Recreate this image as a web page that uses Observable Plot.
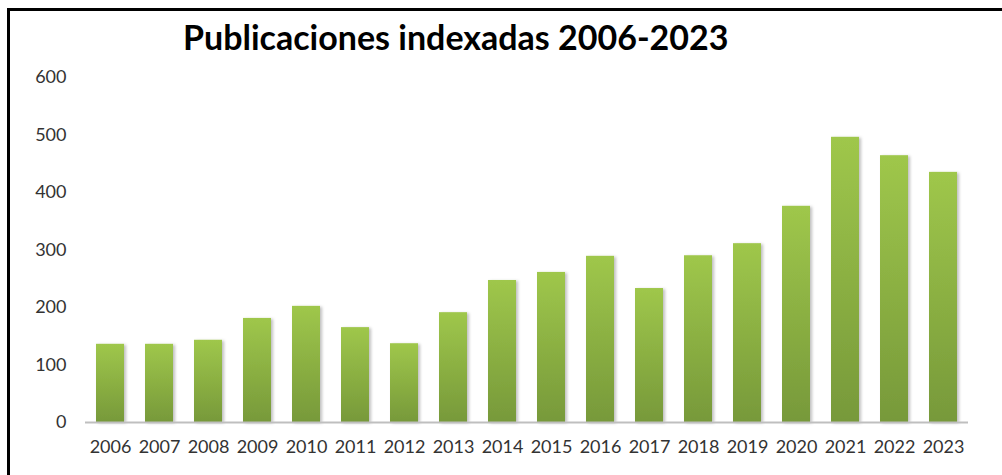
<!DOCTYPE html>
<html>
<head>
<meta charset="utf-8">
<script src="https://cdn.jsdelivr.net/npm/d3@7"></script>
<script src="https://cdn.jsdelivr.net/npm/@observablehq/plot@0.6"></script>
<style>
  html, body { margin: 0; padding: 0; background: #fff; }
  #wrap { position: relative; width: 1002px; height: 475px; overflow: hidden; background: #fff; }
  #frame { position: absolute; left: 7px; top: 8px; width: 1000px; height: 480px;
           border-left: 3px solid #000; border-top: 3px solid #000; box-sizing: border-box; }
  #title { position: absolute; left: 183px; top: 20px; font-family: Lato, "Open Sans", sans-serif;
           font-weight: bold; font-size: 34px; color: #000; white-space: nowrap; line-height: 1; }
  #chart { position: absolute; left: 0; top: 0; }
  #chart svg g[aria-label="y-axis tick label"],
  #chart svg g[aria-label="x-axis tick label"] { font-size: 18px; font-family: Lato, "Open Sans", sans-serif; }
</style>
</head>
<body>
<div id="wrap">
  <div id="frame"></div>
  <div id="chart"></div>
  <div id="title">Publicaciones indexadas 2006-2023</div>
</div>
<script>
const years = ["2006","2007","2008","2009","2010","2011","2012","2013","2014","2015","2016","2017","2018","2019","2020","2021","2022","2023"];
const publicaciones = [136, 136, 143, 181, 202, 165, 137, 191, 247, 261, 289, 233, 290, 311, 376, 496, 464, 435];
const yTicks = [0, 100, 200, 300, 400, 500, 600];

const data = years.map((y, i) => ({year: y, value: publicaciones[i]}));

const chart = Plot.plot({
  width: 1002,
  height: 475,
  marginLeft: 85,
  marginRight: 34,
  marginTop: 77,
  marginBottom: 53,
  style: { fontFamily: "Lato, 'Open Sans', sans-serif", fontSize: "18px", color: "#333", background: "transparent", overflow: "visible" },
  x: { domain: years, paddingInner: 0.43, paddingOuter: 0.215, label: null },
  y: { domain: [0, 600], label: null },
  marks: [
    Plot.barY(data, { x: "year", y: "value", fill: "url(#barGrad)" }),
    Plot.ruleX([0], { frameAnchor: "left", y1: 0, y2: 600, stroke: "#bfbfbf", strokeWidth: 1.3 }),
    Plot.ruleY([0], { stroke: "#bfbfbf", strokeWidth: 2 }),
    Plot.axisY({ ticks: yTicks, tickSize: 0, tickPadding: 19, fontSize: 18, fill: "#333", label: null }),
    Plot.axisX({ tickSize: 0, tickPadding: 18, fontSize: 18, fill: "#333", label: null })
  ]
});

const ns = "http://www.w3.org/2000/svg";
const defs = document.createElementNS(ns, "defs");
defs.innerHTML = `
  <linearGradient id="barGrad" x1="0" y1="0" x2="0" y2="1">
    <stop offset="0" stop-color="#9fc74b"/>
    <stop offset="1" stop-color="#77993a"/>
  </linearGradient>
  <filter id="barShadow" x="-20%" y="-5%" width="150%" height="115%">
    <feDropShadow dx="2" dy="1" stdDeviation="1.6" flood-color="#000" flood-opacity="0.25"/>
  </filter>`;
chart.insertBefore(defs, chart.firstChild);
const barGroup = chart.querySelector("g[aria-label='bar']");
if (barGroup) barGroup.setAttribute("filter", "url(#barShadow)");

document.getElementById("chart").appendChild(chart);
</script>
</body>
</html>
